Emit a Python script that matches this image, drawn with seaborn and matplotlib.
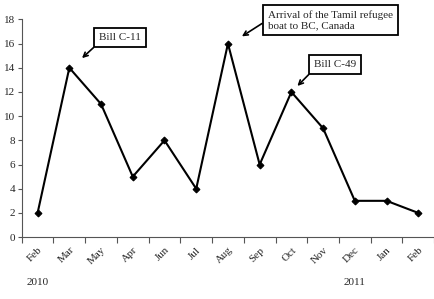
import numpy as np
import pandas as pd
import seaborn as sns
import matplotlib.pyplot as plt
from matplotlib.ticker import FixedLocator

# Data
months = ["Feb", "Mar", "May", "Apr", "Jun", "Jul", "Aug", "Sep", "Oct", "Nov", "Dec", "Jan", "Feb"]
counts = [2, 14, 11, 5, 8, 4, 16, 6, 12, 9, 3, 3, 2]
years = ["2010", "2011"]
year_pos = [0, 10]

df = pd.DataFrame({"pos": np.arange(len(months)), "count": counts})

sns.set_style("white")
plt.rcParams["font.family"] = ["Liberation Serif", "DejaVu Serif"]

fig = plt.figure(figsize=(4.35, 2.99), dpi=100)
ax = fig.add_axes([0.05, 0.207, 0.948, 0.728])

sns.lineplot(data=df, x="pos", y="count", ax=ax, color="black", linewidth=1.5,
             marker="D", markersize=3.5, markeredgecolor="black")

ax.set_xlim(-0.5, len(months) - 0.5)
ax.set_ylim(0, 18)
ax.set_yticks(range(0, 19, 2))
ax.set_xlabel("")
ax.set_ylabel("")

# tick marks on category boundaries, labels at category centres
ax.xaxis.set_major_locator(FixedLocator(np.arange(-0.5, len(months), 1.0)))
ax.xaxis.set_minor_locator(FixedLocator(df["pos"]))
ax.set_xticklabels([])
ax.set_xticklabels(months, minor=True, rotation=45, ha="right", rotation_mode="anchor")
ax.tick_params(axis="x", which="major", length=4, width=0.8, direction="out", bottom=True, color="#555555")
ax.tick_params(axis="x", which="minor", length=0, pad=6, labelsize=8)
ax.tick_params(axis="y", length=3, width=0.8, direction="out", left=True, labelsize=8, pad=1.5, color="#555555")

sns.despine(ax=ax)
for s in ["left", "bottom"]:
    ax.spines[s].set_color("#555555")
    ax.spines[s].set_linewidth(0.8)

trans = ax.get_xaxis_transform()
for yr, p in zip(years, year_pos):
    ax.text(p, -0.21, yr, transform=trans, ha="center", va="center", fontsize=8)

box = dict(boxstyle="square,pad=0.45", fc="white", ec="black", lw=1.3)
ax.annotate("Bill C-11", xy=(1.4, 14.8), xytext=(1.94, 16.1), fontsize=8,
            ha="left", va="bottom", bbox=box, annotation_clip=False,
            arrowprops=dict(arrowstyle="->", lw=1.2, color="black", relpos=(0, 0), shrinkA=0, shrinkB=0))
ax.annotate("Arrival of the Tamil refugee\nboat to BC, Canada", xy=(6.44, 16.6), xytext=(7.25, 17.96),
            fontsize=8, ha="left", va="center", bbox=box, annotation_clip=False,
            arrowprops=dict(arrowstyle="->", lw=1.2, color="black", relpos=(0, 0.5), shrinkA=0, shrinkB=0))
ax.annotate("Bill C-49", xy=(8.19, 12.5), xytext=(8.72, 13.9), fontsize=8,
            ha="left", va="bottom", bbox=box, annotation_clip=False,
            arrowprops=dict(arrowstyle="->", lw=1.2, color="black", relpos=(0, 0), shrinkA=0, shrinkB=0))

fig.savefig("out.png", dpi=100)
